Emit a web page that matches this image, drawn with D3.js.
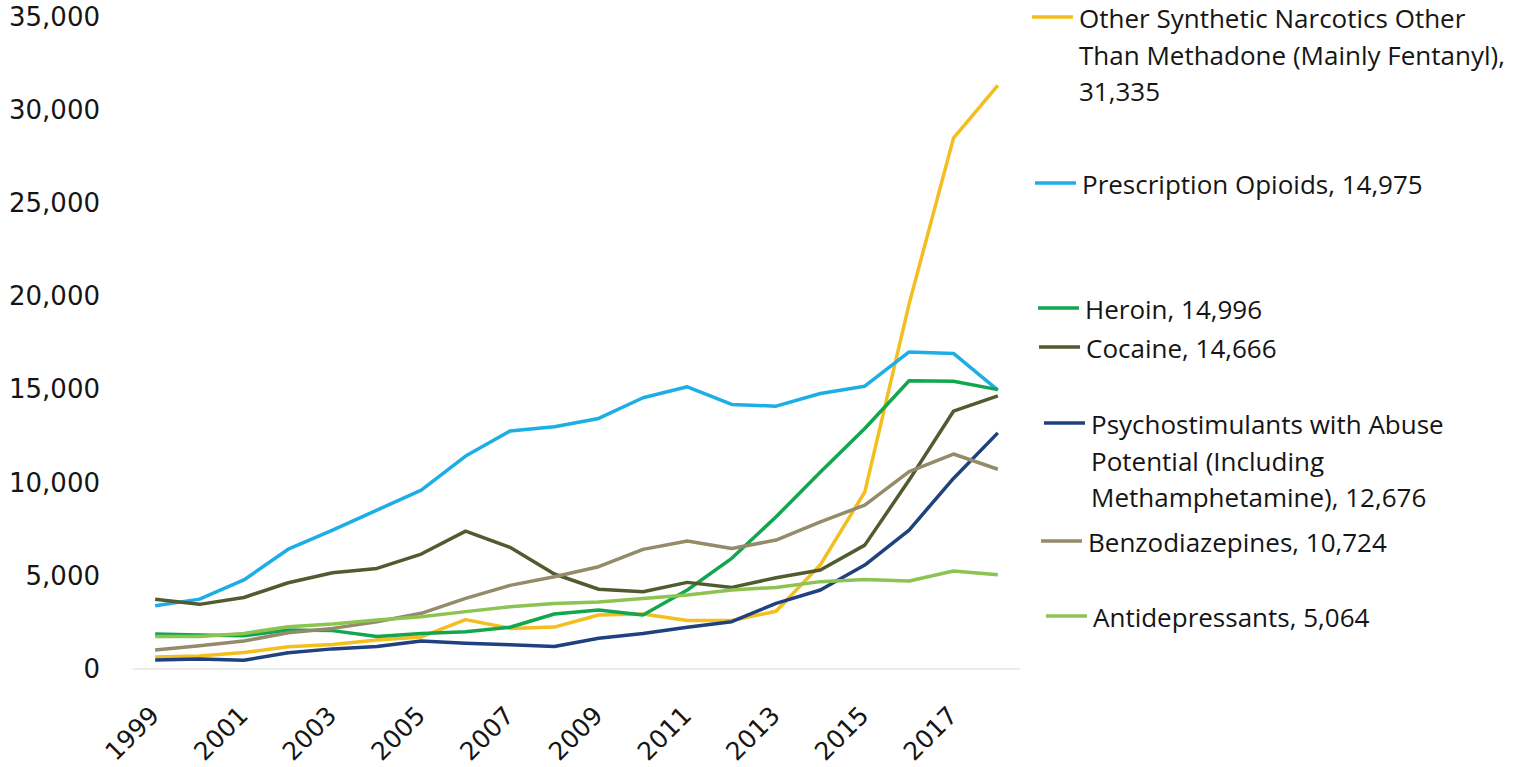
<!DOCTYPE html>
<html>
<head>
<meta charset="utf-8">
<script src="https://cdn.jsdelivr.net/npm/d3@7"></script>
<style>
  html, body { margin: 0; padding: 0; background: #ffffff; }
  svg { display: block; }
</style>
</head>
<body>
<svg id="chart" width="1522" height="767"></svg>
<script>
// ---------------- DATA ----------------
const years = [1999, 2000, 2001, 2002, 2003, 2004, 2005, 2006, 2007, 2008,
               2009, 2010, 2011, 2012, 2013, 2014, 2015, 2016, 2017, 2018];

const seriesNames = [
  "Other Synthetic Narcotics Other Than Methadone (Mainly Fentanyl)",
  "Prescription Opioids",
  "Heroin",
  "Cocaine",
  "Psychostimulants with Abuse Potential (Including Methamphetamine)",
  "Benzodiazepines",
  "Antidepressants"
];

const fentanyl = [650, 700, 880, 1200, 1320, 1560, 1720, 2650, 2180, 2250,
                  2900, 2950, 2600, 2600, 3100, 5600, 9500, 19600, 28500, 31335];
const prescriptionOpioids = [3400, 3750, 4780, 6430, 7460, 8530, 9600, 11430, 12770, 13000,
                             13450, 14560, 15150, 14200, 14110, 14790, 15180, 17020, 16940, 14975];
const heroin = [1880, 1820, 1780, 2090, 2060, 1750, 1910, 2000, 2240, 2950,
                3170, 2900, 4240, 5940, 8170, 10580, 12910, 15470, 15450, 14996];
const cocaine = [3740, 3470, 3840, 4630, 5170, 5400, 6170, 7400, 6530, 5100,
                 4280, 4150, 4650, 4380, 4900, 5310, 6650, 10140, 13840, 14666];
const psychostimulants = [480, 540, 470, 870, 1080, 1210, 1500, 1380, 1300, 1210,
                          1650, 1910, 2240, 2540, 3520, 4240, 5580, 7460, 10230, 12676];
const benzodiazepines = [1020, 1250, 1500, 1950, 2180, 2540, 2990, 3790, 4490, 4950,
                         5490, 6420, 6870, 6470, 6920, 7900, 8800, 10590, 11540, 10724];
const antidepressants = [1740, 1740, 1910, 2270, 2410, 2630, 2810, 3080, 3340, 3520,
                         3600, 3790, 3970, 4240, 4380, 4690, 4810, 4720, 5260, 5064];

const seriesValues = [fentanyl, prescriptionOpioids, heroin, cocaine,
                      psychostimulants, benzodiazepines, antidepressants];

const yTickValues = [0, 5000, 10000, 15000, 20000, 25000, 30000, 35000];
const xTickLabels = [1999, 2001, 2003, 2005, 2007, 2009, 2011, 2013, 2015, 2017];

// ---------------- STYLE / LAYOUT ----------------
const colors = ["#F3BE1E", "#1DAEE5", "#12A64F", "#4F5C30", "#1F4180", "#938B6A", "#8CC351"];
const legendSwatchY = [17, 183, 308, 347, 423, 541, 616];
const legendTextX = [1079, 1082, 1085, 1086, 1091, 1088, 1093];
const legendMaxWidth = 442;
const legendLineHeight = 36.5;

const svg = d3.select("#chart");
const fmt = d3.format(",");

const x = d3.scalePoint().domain(years).range([133, 1020]).padding(0.5);
const y = d3.scaleLinear().domain([0, 35000]).range([669, 17]);

// baseline
svg.append("line")
  .attr("x1", 133).attr("x2", 1020)
  .attr("y1", y(0)).attr("y2", y(0))
  .attr("stroke", "#d9d9d9").attr("stroke-width", 1.2);

// y axis
const yAxis = svg.append("g")
  .attr("transform", "translate(100,0)")
  .call(d3.axisLeft(y).tickValues(yTickValues).tickSize(0).tickPadding(0).tickFormat(fmt));
yAxis.select(".domain").remove();
yAxis.selectAll("text")
  .attr("font-family", "DejaVu Sans, Verdana, sans-serif")
  .attr("font-size", 26)
  .attr("fill", "#151515");

// x axis
const xAxis = svg.append("g")
  .attr("transform", `translate(0,${y(0)})`)
  .call(d3.axisBottom(x).tickValues(xTickLabels).tickSize(0).tickFormat(d3.format("d")));
xAxis.select(".domain").remove();
xAxis.selectAll("text")
  .attr("font-family", "DejaVu Sans, Verdana, sans-serif")
  .attr("font-size", 25)
  .attr("fill", "#151515")
  .attr("text-anchor", "end")
  .attr("y", 0)
  .attr("dy", 0)
  .attr("transform", "translate(5,48) rotate(-45)");

// lines
const line = d3.line()
  .x((d, i) => x(years[i]))
  .y(d => y(d));

svg.append("g").selectAll("path")
  .data(seriesValues)
  .join("path")
  .attr("d", d => line(d))
  .attr("fill", "none")
  .attr("stroke", (d, i) => colors[i])
  .attr("stroke-width", 3.5)
  .attr("stroke-linejoin", "round")
  .attr("stroke-linecap", "butt");

// legend
const legend = svg.append("g");
const measurer = svg.append("text")
  .attr("font-family", "Open Sans, sans-serif")
  .attr("font-size", 26)
  .attr("visibility", "hidden");

function wrap(label) {
  const words = label.split(" ");
  const lines = [];
  let cur = "";
  words.forEach(w => {
    const test = cur ? cur + " " + w : w;
    measurer.text(test);
    if (cur && measurer.node().getComputedTextLength() > legendMaxWidth) {
      lines.push(cur);
      cur = w;
    } else {
      cur = test;
    }
  });
  if (cur) lines.push(cur);
  return lines;
}

seriesNames.forEach((name, i) => {
  const last = seriesValues[i][seriesValues[i].length - 1];
  const label = name + ", " + fmt(last);
  const sy = legendSwatchY[i];
  const tx = legendTextX[i];
  legend.append("line")
    .attr("x1", tx - 47).attr("x2", tx - 6)
    .attr("y1", sy).attr("y2", sy)
    .attr("stroke", colors[i]).attr("stroke-width", 3.5);
  const t = legend.append("text")
    .attr("font-family", "Open Sans, sans-serif")
    .attr("font-size", 26)
    .attr("fill", "#151515");
  wrap(label).forEach((ln, j) => {
    t.append("tspan")
      .attr("x", tx)
      .attr("y", sy + 11 + j * legendLineHeight)
      .text(ln);
  });
});
measurer.remove();
</script>
</body>
</html>
